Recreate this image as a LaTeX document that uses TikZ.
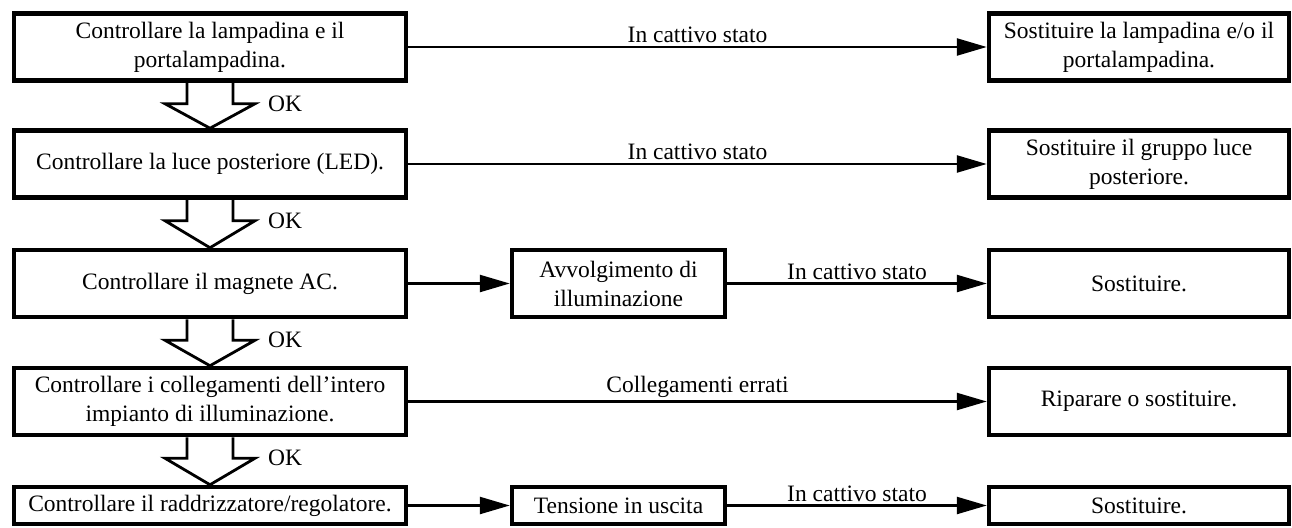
\documentclass[tikz,border=0pt]{standalone}
\usepackage{fontspec}
\setmainfont{Liberation Serif}
\usepackage{tikz}
\usetikzlibrary{calc,arrows.meta,positioning}
\newcommand{\okarrow}[3]{%
  \draw[okarr] ($(#1.south)+(-23,0)$) -- ++(0,21) -- ++(-22,0) -- (#2.north)
    -- ($(#1.south)+(45,21)$) -- ++(-22,0) -- ($(#1.south)+(23,0)$);
  \node[oklbl] (#3) at ($(#1.south)+(58,21)$) {OK};}

\begin{document}
\begin{tikzpicture}[x=1pt,y=-1pt,>={Triangle[length=30pt,width=17pt]}]
  \tikzstyle{mybox}=[draw, line width=4.5pt, align=center, inner sep=2pt,
              font=\fontsize{23.5}{29}\selectfont]
  \tikzstyle{leftbox}=[mybox, minimum width=392pt, minimum height=67pt]
  \tikzstyle{rightbox}=[mybox, minimum width=300pt, minimum height=67pt]
  \tikzstyle{midbox}=[mybox, minimum width=213pt, minimum height=67pt]
  \tikzstyle{conn}=[->, line width=2.4pt]
  \tikzstyle{lbl}=[above, inner sep=3pt, font=\fontsize{23.5}{29}\selectfont]
  \tikzstyle{okarr}=[line width=2.8pt]
  \tikzstyle{oklbl}=[anchor=west, inner sep=0pt, font=\fontsize{23.5}{29}\selectfont]
  \useasboundingbox (0,0) rectangle (1292,527);
  % lampadina
  \node[leftbox] (c1) at (210,47) {Controllare la lampadina e il\\portalampadina.};
  \node[rightbox] (s1) at (1139,47) {Sostituire la lampadina e/o il\\portalampadina.};
  \draw[conn] (c1) -- node[lbl] (l1) {In cattivo stato} (s1);
  % luce posteriore
  \node[leftbox] (c2) at (210,164) {Controllare la luce posteriore (LED).};
  \node[rightbox] (s2) at (1139,164) {Sostituire il gruppo luce\\posteriore.};
  \draw[conn] (c2) -- node[lbl] (l2) {In cattivo stato} (s2);
  % magnete AC
  \node[leftbox] (c3) at (210,283.5) {Controllare il magnete AC.};
  \node[midbox] (m3) at (618.5,283.5) {Avvolgimento di\\illuminazione};
  \node[rightbox] (s3) at (1139,283.5) {Sostituire.};
  \draw[conn] (c3) -- (m3);
  \draw[conn] (m3) -- node[lbl] (l3) {In cattivo stato} (s3);
  % collegamenti
  \node[leftbox] (c4) at (210,401.5) {Controllare i collegamenti dell'intero\\impianto di illuminazione.};
  \node[rightbox] (s4) at (1139,401.5) {Riparare o sostituire.};
  \draw[conn] (c4) -- node[lbl] (l4) {Collegamenti errati} (s4);
  % raddrizzatore/regolatore
  \node[leftbox, minimum height=37pt] (c5) at (210,505.5) {Controllare il raddrizzatore/regolatore.};
  \node[midbox, minimum height=37pt] (m5) at (618.5,505.5) {Tensione in uscita};
  \node[rightbox, minimum height=37pt] (s5) at (1139,505.5) {Sostituire.};
  \draw[conn] (c5) -- (m5);
  \draw[conn] (m5) -- node[lbl] (l5) {In cattivo stato} (s5);
  % OK arrows
  \okarrow{c1}{c2}{ok1}
  \okarrow{c2}{c3}{ok2}
  \okarrow{c3}{c4}{ok3}
  \okarrow{c4}{c5}{ok4}
\end{tikzpicture}
\end{document}
